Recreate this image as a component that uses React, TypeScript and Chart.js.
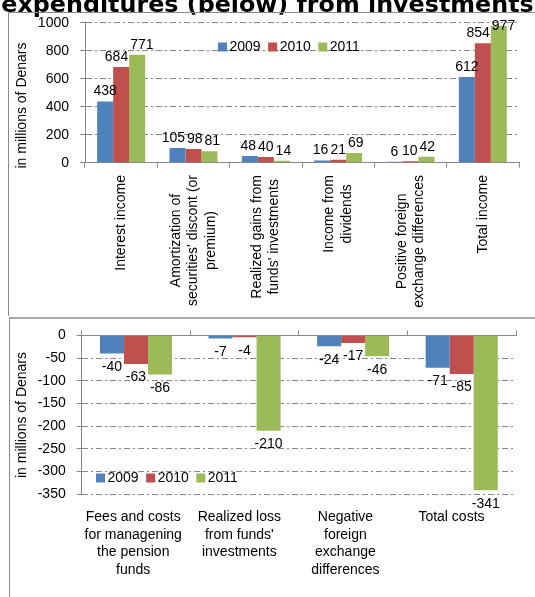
import React, { useEffect, useRef } from "react";
import { Chart, registerables } from "chart.js";

Chart.register(...registerables);

// ---------- data ----------
const pageTitle = "expenditures (below) from investments";
const yAxisTitle = "in millions of Denars";
const years = ["2009", "2010", "2011"];
const seriesColors = ["#4F81BD", "#C0504D", "#9BBB59"];

const incomeCategories: string[][] = [
  ["Interest income"],
  ["Amortization of", "securities' discont (or", "premium)"],
  ["Realized gains from", "funds' investments"],
  ["Income from", "dividends"],
  ["Positive foreign", "exchange differences"],
  ["Total income"],
];
const income2009 = [438, 105, 48, 16, 6, 612];
const income2010 = [684, 98, 40, 21, 10, 854];
const income2011 = [771, 81, 14, 69, 42, 977];
const incomeTicks = [0, 200, 400, 600, 800, 1000];

const costCategories: string[][] = [
  ["Fees and costs", "for managening", "the pension", "funds"],
  ["Realized loss", "from funds'", "investments"],
  ["Negative", "foreign", "exchange", "differences"],
  ["Total costs"],
];
const costs2009 = [-40, -7, -24, -71];
const costs2010 = [-63, -4, -17, -85];
const costs2011 = [-86, -210, -46, -341];
const costTicks = [-350, -300, -250, -200, -150, -100, -50, 0];

// ---------- styles ----------
const FONT = "'Liberation Sans', Arial, sans-serif";
const AXIS = "#868686";
const W = 535;
const TOP_H = 316;
const BOT_H = 281;

Chart.defaults.font.family = FONT;
Chart.defaults.font.size = 14;
Chart.defaults.color = "#000";

function drawLegend(ctx: CanvasRenderingContext2D, chart: any, x0: number, yc: number) {
  ctx.save();
  ctx.font = `14px ${FONT}`;
  ctx.textBaseline = "middle";
  ctx.textAlign = "left";
  let x = x0;
  chart.data.datasets.forEach((ds: any) => {
    ctx.fillStyle = ds.backgroundColor;
    ctx.fillRect(x, yc - 4.5, 9, 9);
    ctx.fillStyle = "#000";
    ctx.fillText(ds.label, x + 11.5, yc + 0.5);
    x += 11.5 + ctx.measureText(ds.label).width + 7.5;
  });
  ctx.restore();
}

// value labels: outside end, clamped into plot area, spread apart when they collide
function drawValueLabels(ctx: CanvasRenderingContext2D, chart: any) {
  ctx.save();
  ctx.font = `14px ${FONT}`;
  ctx.textAlign = "center";
  ctx.textBaseline = "middle";
  ctx.fillStyle = "#000";
  const area = chart.chartArea;
  const nCat = chart.data.labels.length;
  const GAP = 2;
  const H = 14;
  for (let j = 0; j < nCat; j++) {
    const items: { x: number; y: number; w: number; t: string }[] = [];
    chart.data.datasets.forEach((ds: any, i: number) => {
      const el = chart.getDatasetMeta(i).data[j];
      const v = ds.data[j];
      const t = String(v);
      let y = v >= 0 ? el.y - 10 : el.y + 13.5;
      if (v >= 0) y = Math.max(y, area.top + 3);
      items.push({ x: el.x, y, w: ctx.measureText(t).width, t });
    });
    for (let it = 0; it < 30; it++) {
      for (let k = 0; k < items.length - 1; k++) {
        const a = items[k];
        const b = items[k + 1];
        if (Math.abs(a.y - b.y) >= H) continue;
        const deficit = a.x + a.w / 2 + GAP - (b.x - b.w / 2);
        if (deficit > 0.01) {
          a.x -= deficit / 2;
          b.x += deficit / 2;
        }
      }
    }
    items.forEach((it) => ctx.fillText(it.t, it.x, it.y));
  }
  ctx.restore();
}

function drawYTitle(ctx: CanvasRenderingContext2D, x: number, y: number) {
  ctx.save();
  ctx.font = `14px ${FONT}`;
  ctx.fillStyle = "#000";
  ctx.textAlign = "center";
  ctx.textBaseline = "middle";
  ctx.translate(x, y);
  ctx.rotate(-Math.PI / 2);
  ctx.fillText(yAxisTitle, 0, 0);
  ctx.restore();
}

const topOverlay = {
  id: "topOverlay",
  afterDraw(chart: any) {
    const ctx: CanvasRenderingContext2D = chart.ctx;
    const area = chart.chartArea;
    const xs = chart.scales.x;
    // title
    ctx.save();
    ctx.font = `bold 23.8px 'DejaVu Sans', sans-serif`;
    ctx.fillStyle = "#000";
    ctx.textAlign = "center";
    ctx.textBaseline = "alphabetic";
    ctx.fillText(pageTitle, W / 2, 12);
    ctx.restore();
    // frame
    ctx.save();
    ctx.strokeStyle = "#8a8a8a";
    ctx.lineWidth = 1;
    ctx.beginPath();
    ctx.moveTo(8.5, TOP_H);
    ctx.lineTo(8.5, 12.5);
    ctx.lineTo(W, 12.5);
    ctx.stroke();
    ctx.restore();
    // rotated category labels
    ctx.save();
    ctx.font = `14px ${FONT}`;
    ctx.fillStyle = "#000";
    ctx.textAlign = "center";
    ctx.textBaseline = "middle";
    incomeCategories.forEach((lines, j) => {
      const x = xs.getPixelForValue(j);
      const maxW = Math.max(...lines.map((l) => ctx.measureText(l).width));
      ctx.save();
      ctx.translate(x, area.bottom + 12.3);
      ctx.rotate(-Math.PI / 2);
      lines.forEach((l, i) => {
        ctx.fillText(l, -maxW / 2, (i - (lines.length - 1) / 2) * 17.5);
      });
      ctx.restore();
    });
    ctx.restore();
    drawValueLabels(ctx, chart);
    drawLegend(ctx, chart, area.left + 133, area.top + 24.3);
    drawYTitle(ctx, 22, 105.5);
  },
};

const bottomOverlay = {
  id: "bottomOverlay",
  afterDraw(chart: any) {
    const ctx: CanvasRenderingContext2D = chart.ctx;
    const area = chart.chartArea;
    const xs = chart.scales.x;
    // frame
    ctx.save();
    ctx.fillStyle = "#a8a8a8";
    ctx.fillRect(9, 1, W - 9, 2);
    ctx.fillStyle = "#8a8a8a";
    ctx.fillRect(9, 1, 1, BOT_H);
    ctx.restore();
    // category labels (Excel lays these out in slightly narrower slots)
    ctx.save();
    ctx.font = `14px ${FONT}`;
    ctx.fillStyle = "#000";
    ctx.textAlign = "center";
    ctx.textBaseline = "middle";
    costCategories.forEach((lines, j) => {
      const x = area.left - 1.5 + (xs.getPixelForValue(j) - area.left) * 0.977;
      lines.forEach((l, i) => {
        ctx.fillText(l, x, area.bottom + 22.7 + i * 17.8);
      });
    });
    ctx.restore();
    drawValueLabels(ctx, chart);
    drawLegend(ctx, chart, area.left + 14.3, area.bottom - 16.3);
    drawYTitle(ctx, 22, 99);
  },
};

function makeOptions(
  ticks: number[],
  padding: any,
  xPos: "top" | "bottom",
  xHeight: number,
  yWidth: number
) {
  return {
    responsive: false,
    animation: false as const,
    events: [],
    layout: { padding },
    plugins: {
      legend: { display: false },
      title: { display: false },
      tooltip: { enabled: false },
    },
    scales: {
      x: {
        position: xPos,
        ticks: { display: false },
        grid: {
          display: true,
          drawOnChartArea: false,
          drawTicks: true,
          tickLength: 5,
          tickColor: AXIS,
          color: AXIS,
          offset: true,
        },
        border: { display: true, color: AXIS, width: 1 },
        afterFit: (s: any) => {
          s.height = xHeight;
        },
      },
      y: {
        min: ticks[0],
        max: ticks[ticks.length - 1],
        ticks: {
          stepSize: ticks[1] - ticks[0],
          padding: 11,
          color: "#000",
          font: { size: 14, family: FONT },
          callback: (v: any) => String(v),
        },
        grid: {
          color: AXIS,
          tickColor: AXIS,
          tickLength: 5,
          tickBorderDash: [],
        },
        border: { display: true, color: AXIS, width: 1, dash: [6, 3, 2, 3] },
        afterFit: (s: any) => {
          s.width = yWidth;
        },
      },
    },
  };
}

function makeDatasets(series: number[][]) {
  return years.map((y, i) => ({
    label: y,
    data: series[i],
    backgroundColor: seriesColors[i],
    borderWidth: 0,
    categoryPercentage: 0.664,
    barPercentage: 1,
  }));
}

export default function App() {
  const topRef = useRef<HTMLCanvasElement>(null);
  const botRef = useRef<HTMLCanvasElement>(null);

  useEffect(() => {
    const top = new Chart(topRef.current!, {
      type: "bar",
      data: {
        labels: incomeCategories.map((l) => l.join(" ")),
        datasets: makeDatasets([income2009, income2010, income2011]),
      },
      options: makeOptions(
        incomeTicks,
        { left: 0, right: 16, top: 22.7, bottom: 0 },
        "bottom",
        153.3,
        85
      ) as any,
      plugins: [topOverlay],
    });
    const bot = new Chart(botRef.current!, {
      type: "bar",
      data: {
        labels: costCategories.map((l) => l.join(" ")),
        datasets: makeDatasets([costs2009, costs2010, costs2011]),
      },
      options: makeOptions(
        costTicks,
        { left: 0, right: 19, top: 11.7, bottom: 102.7 },
        "top",
        5,
        81.7
      ) as any,
      plugins: [bottomOverlay],
    });
    return () => {
      top.destroy();
      bot.destroy();
    };
  }, []);

  return (
    <div
      style={{
        position: "absolute",
        left: 0,
        top: 0,
        width: W,
        height: TOP_H + BOT_H,
        background: "#fff",
        overflow: "hidden",
      }}
    >
      <canvas
        ref={topRef}
        width={W}
        height={TOP_H}
        style={{ position: "absolute", left: 0, top: 0, width: W, height: TOP_H }}
      />
      <canvas
        ref={botRef}
        width={W}
        height={BOT_H}
        style={{ position: "absolute", left: 0, top: TOP_H, width: W, height: BOT_H }}
      />
    </div>
  );
}
